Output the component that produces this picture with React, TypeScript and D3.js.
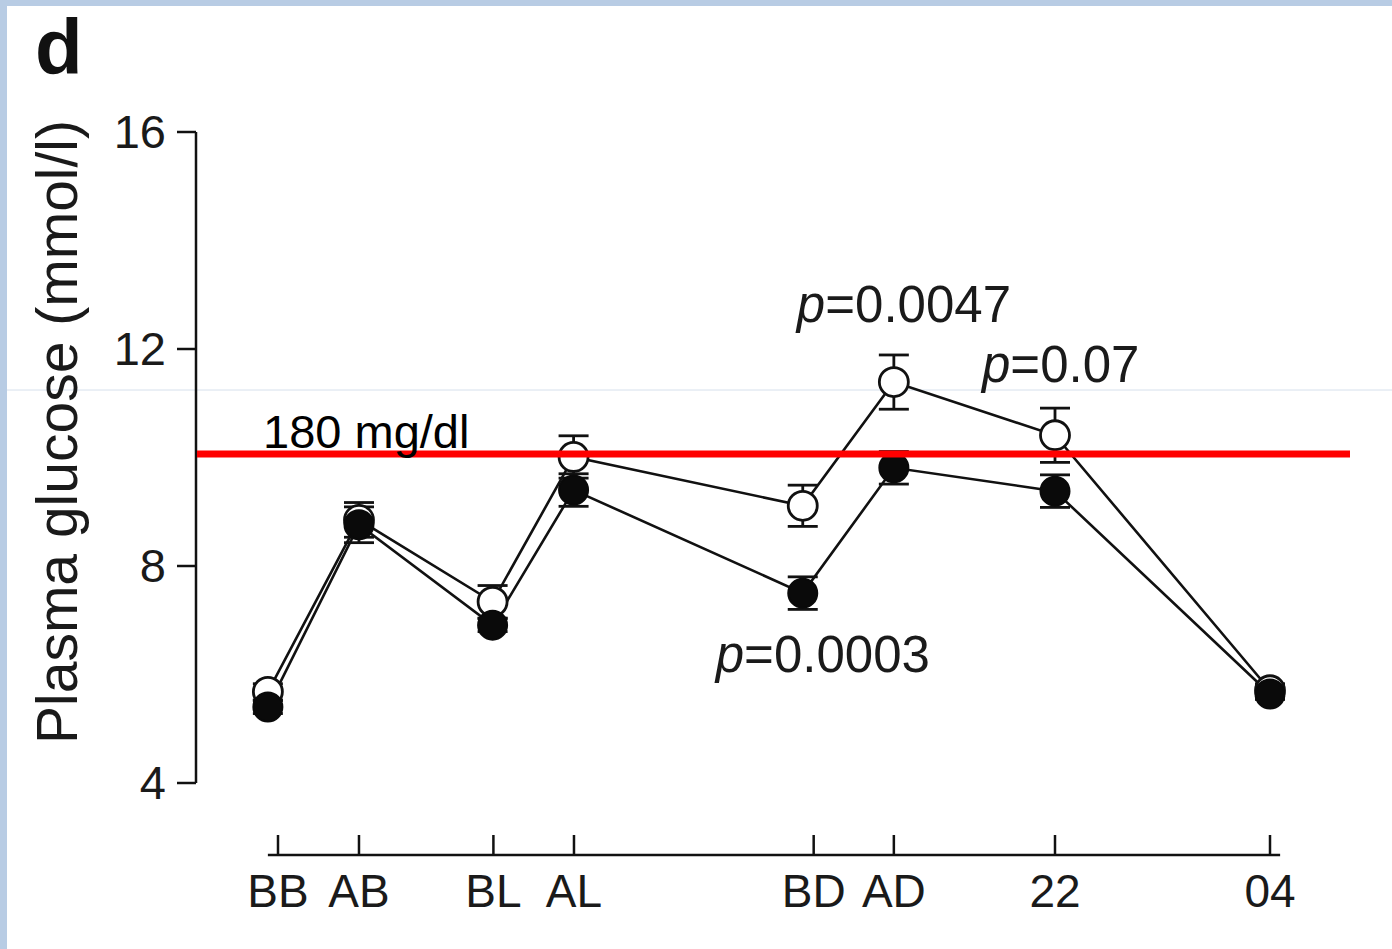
import React from "react";
import * as d3 from "d3";

// ---- data ----
const categories = ["BB", "AB", "BL", "AL", "BD", "AD", "22", "04"];
// x positions (hours-like units) of the axis ticks and of the plotted points
const tickPos = [0, 2, 5.32, 7.31, 13.23, 15.21, 19.19, 24.5];
const pointPos = [-0.25, 2, 5.3, 7.3, 12.96, 15.21, 19.19, 24.5];
// open circles series (mmol/l) and SEM
const openMean = [5.68, 8.85, 7.34, 10.01, 9.11, 11.39, 10.41, 5.71];
const openErr = [0.15, 0.32, 0.3, 0.39, 0.38, 0.5, 0.5, 0.12];
// filled circles series (mmol/l) and SEM
const filledMean = [5.4, 8.76, 6.91, 9.4, 7.5, 9.81, 9.38, 5.64];
const filledErr = [0.12, 0.33, 0.12, 0.3, 0.3, 0.3, 0.3, 0.1];
const yTicks = [4, 8, 12, 16];
const threshold = 10; // 180 mg/dl in mmol/l
const thresholdLabel = "180 mg/dl";
const pLabels = [
  { text: "0.0047", at: 5, value: 12.5 },
  { text: "0.07", at: 6, value: 11.4 },
  { text: "0.0003", at: 4, value: 6.05 },
];

const W = 1392;
const H = 949;
const FONT = "'Liberation Sans', Arial, Helvetica, sans-serif";

export default function App() {
  const x = d3.scaleLinear().domain([0, 24.5]).range([278, 1270]);
  const y = d3.scaleLinear().domain([4, 16]).range([783, 132]);
  const axisY = 855;
  const axisX = 196;

  const line = d3
    .line<number>()
    .x((_, i) => x(pointPos[i]))
    .y((d) => y(d));

  const r = 14.5;
  const cap = 15;

  const errorBars = (means: number[], errs: number[], key: string) =>
    means.map((m, i) => {
      const cx = x(pointPos[i]);
      const y1 = y(m + errs[i]);
      const y2 = y(m - errs[i]);
      return (
        <g key={key + i} stroke="#111" strokeWidth={2.8}>
          <line x1={cx} x2={cx} y1={y1} y2={y2} />
          <line x1={cx - cap} x2={cx + cap} y1={y1} y2={y1} />
          <line x1={cx - cap} x2={cx + cap} y1={y2} y2={y2} />
        </g>
      );
    });

  const pOffsets = [-97, -73, -87];

  return (
    <svg
      width={W}
      height={H}
      style={{ position: "absolute", left: 0, top: 0, display: "block" }}
      fontFamily={FONT}
    >
      <rect x={0} y={0} width={W} height={H} fill="#fff" />
      <rect x={0} y={0} width={W} height={6} fill="#b8cce4" />
      <rect x={0} y={0} width={7} height={H} fill="#b8cce4" />
      <line x1={7} x2={W} y1={390} y2={390} stroke="#d6e0ec" strokeWidth={1} />

      {/* panel letter */}
      <text x={35} y={74} fontSize={78} fontWeight="bold" fill="#111">
        d
      </text>

      {/* y axis */}
      <line x1={axisX} x2={axisX} y1={y(16)} y2={y(4)} stroke="#111" strokeWidth={2.5} />
      {yTicks.map((t) => (
        <g key={"yt" + t}>
          <line x1={axisX - 19} x2={axisX} y1={y(t)} y2={y(t)} stroke="#111" strokeWidth={2.5} />
          <text x={166} y={y(t) + 16} fontSize={47} textAnchor="end" fill="#1a1a1a">
            {t}
          </text>
        </g>
      ))}
      <text
        transform={`translate(77, ${432}) rotate(-90)`}
        fontSize={57}
        textAnchor="middle"
        fill="#1a1a1a"
      >
        Plasma glucose (mmol/l)
      </text>

      {/* x axis */}
      <line x1={x(-0.25)} x2={x(24.75)} y1={axisY} y2={axisY} stroke="#111" strokeWidth={2.5} />
      {categories.map((c, i) => (
        <g key={"xt" + c}>
          <line
            x1={x(tickPos[i])}
            x2={x(tickPos[i])}
            y1={axisY - 20}
            y2={axisY}
            stroke="#111"
            strokeWidth={2.5}
          />
          <text x={x(tickPos[i])} y={907} fontSize={46} textAnchor="middle" fill="#1a1a1a">
            {c}
          </text>
        </g>
      ))}

      {/* lines */}
      <path d={line(openMean) || ""} fill="none" stroke="#111" strokeWidth={2.6} />
      <path d={line(filledMean) || ""} fill="none" stroke="#111" strokeWidth={2.6} />

      {/* error bars */}
      {errorBars(openMean, openErr, "oe")}
      {errorBars(filledMean, filledErr, "fe")}

      {/* points */}
      {openMean.map((m, i) => (
        <circle
          key={"o" + i}
          cx={x(pointPos[i])}
          cy={y(m)}
          r={r}
          fill="#fff"
          stroke="#111"
          strokeWidth={2.8}
        />
      ))}
      {filledMean.map((m, i) => (
        <circle
          key={"f" + i}
          cx={x(pointPos[i])}
          cy={y(m)}
          r={r}
          fill="#0a0a0a"
          stroke="#0a0a0a"
          strokeWidth={2}
        />
      ))}

      {/* threshold */}
      <line
        x1={axisX + 1}
        x2={1350}
        y1={454}
        y2={454}
        stroke="#ff0000"
        strokeWidth={7}
      />
      <text x={263} y={448} fontSize={47} fill="#000">
        {thresholdLabel}
      </text>

      {/* p values */}
      {pLabels.map((p, i) => (
        <text
          key={"p" + i}
          x={x(pointPos[p.at]) + pOffsets[i]}
          y={y(p.value)}
          fontSize={51}
          fill="#1a1a1a"
        >
          <tspan fontStyle="italic">p</tspan>=
          {p.text}
        </text>
      ))}
    </svg>
  );
}
